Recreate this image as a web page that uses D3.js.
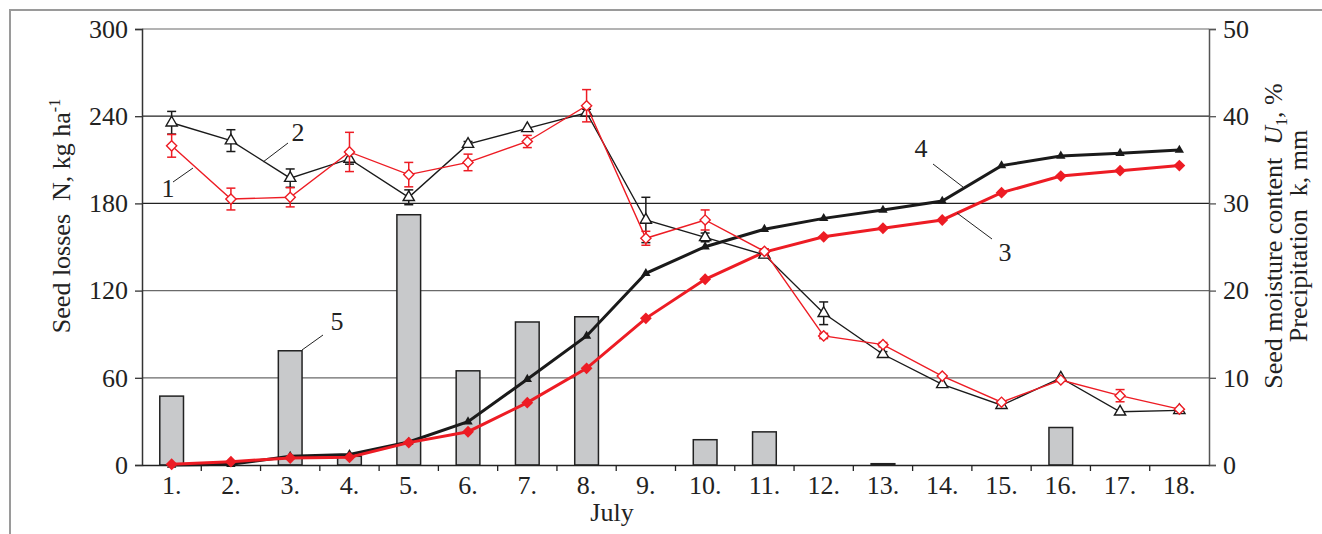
<!DOCTYPE html>
<html lang="en">
  <head>
    <meta charset="utf-8" />
    <title>Seed losses, seed moisture and precipitation in July</title>
    <script src="https://d3js.org/d3.v7.min.js"></script>
    <style>
      body {
        margin: 0;
        background: #fff;
      }
      svg {
        display: block;
        font-family: "Liberation Serif", "Times New Roman", serif;
      }
      .tick text {
        font-size: 26px;
        fill: #222;
      }
    </style>
  </head>
  <body>
    <svg id="chart" width="1322" height="534"></svg>
    <script>
      // days of July
      const days = ["1.", "2.", "3.", "4.", "5.", "6.", "7.", "8.", "9.",
        "10.", "11.", "12.", "13.", "14.", "15.", "16.", "17.", "18."];

      // 1 – seed moisture content (red, open diamonds), %, with error bars
      const moisture1 = [36.6, 30.5, 30.7, 35.9, 33.3, 34.7, 37.1, 41.2, 26.0,
        28.1, 24.5, 14.8, 13.8, 10.2, 7.2, 9.75, 7.95, 6.4];
      const moisture1Err = [1.3, 1.25, 1.1, 2.25, 1.4, 0.95, 0.7, 1.85, 0.8,
        1.15, 0.3, 0.3, 0.25, 0.2, 0.2, 0.2, 0.7, 0.2];

      // 2 – seed moisture content (black, open triangles), %, with error bars
      const moisture2 = [39.25, 37.2, 32.9, 35.1, 30.7, 36.8, 38.6, 40.4, 28.1,
        26.1, 24.1, 17.4, 12.7, 9.25, 6.85, 9.98, 6.1, 6.27];
      const moisture2Err = [1.3, 1.25, 1.05, 0.6, 0.85, 0.3, 0.2, 0.4, 2.6,
        0.5, 0.3, 1.3, 0.3, 0.2, 0.2, 0.2, 0.2, 0.2];

      // 3 – seed losses (red, filled diamonds), kg/ha
      const losses3 = [0.5, 2.3, 4.8, 5.3, 15.4, 22.9, 42.9, 66.5, 100.9,
        127.8, 146.5, 157, 162.9, 168.6, 187.4, 198.8, 202.5, 206];

      // 4 – seed losses (black, filled triangles), kg/ha
      const losses4 = [0, 0.5, 6, 7.3, 15.8, 29.8, 59, 88.8, 131.9,
        150.2, 162.2, 169.7, 175.4, 181.6, 206, 212.6, 214.5, 216.7];

      // 5 – precipitation, mm
      const precipitation = [7.9, 0, 13.1, 1.0, 28.7, 10.8, 16.4, 17.0, 0,
        2.9, 3.8, 0, 0.15, 0, 0, 4.3, 0, 0];

      const leftTicks = [0, 60, 120, 180, 240, 300];
      const rightTicks = [0, 10, 20, 30, 40, 50];

      const red = "#ed1c24";
      const dark = "#1a1a1a";

      const svg = d3.select("#chart");
      const margin = { left: 142, right: 1209, top: 29, bottom: 465 };

      const x = d3.scaleBand().domain(days).range([margin.left, margin.right]);
      const cx = (d) => x(d) + x.bandwidth() / 2;
      const yL = d3.scaleLinear().domain([0, 300]).range([margin.bottom, margin.top]);
      const yR = d3.scaleLinear().domain([0, 50]).range([margin.bottom, margin.top]);

      // outer frame (partial, as cropped in the figure)
      svg.append("path")
        .attr("d", "M10,534 V10 H1322")
        .attr("fill", "none")
        .attr("stroke", "#9a9a9a")
        .attr("stroke-width", 2);

      // gridlines
      const gridColor = { 300: "#9a9a9a", 240: "#222", 180: "#222", 120: "#6a6a6a", 60: "#6a6a6a" };
      svg.append("g")
        .selectAll("line")
        .data(leftTicks.filter((d) => d > 0))
        .join("line")
        .attr("x1", margin.left)
        .attr("x2", margin.right)
        .attr("y1", (d) => yL(d))
        .attr("y2", (d) => yL(d))
        .attr("stroke", (d) => gridColor[d])
        .attr("stroke-width", 1.3);

      // precipitation bars
      const barW = x.bandwidth() * 0.4;
      svg.append("g")
        .selectAll("rect")
        .data(days.map((d, i) => ({ d, v: precipitation[i] })).filter((p) => p.v > 0))
        .join("rect")
        .attr("x", (p) => cx(p.d) - barW / 2)
        .attr("width", barW)
        .attr("y", (p) => yR(p.v))
        .attr("height", (p) => yR(0) - yR(p.v))
        .attr("fill", "#c8c9cb")
        .attr("stroke", "#222")
        .attr("stroke-width", 1.5);

      // axes
      const axL = svg.append("g")
        .attr("transform", `translate(${margin.left},0)`)
        .call(d3.axisLeft(yL).tickValues(leftTicks).tickSize(7).tickPadding(7))
        .attr("font-family", null);
      axL.select(".domain").attr("stroke", "#333").attr("stroke-width", 1.5);
      axL.selectAll(".tick line").attr("stroke", "#333").attr("stroke-width", 1.3);

      const axR = svg.append("g")
        .attr("transform", `translate(${margin.right},0)`)
        .call(d3.axisRight(yR).tickValues(rightTicks).tickSize(7).tickPadding(7))
        .attr("font-family", null);
      axR.select(".domain").attr("stroke", "#555").attr("stroke-width", 1.5);
      axR.selectAll(".tick line").attr("stroke", "#555").attr("stroke-width", 1.3);

      const axB = svg.append("g")
        .attr("transform", `translate(0,${margin.bottom})`)
        .call(d3.axisBottom(x).tickSize(0).tickPadding(8))
        .attr("font-family", null);
      axB.select(".domain").attr("stroke", "#222").attr("stroke-width", 1.6);
      axB.selectAll(".tick text").attr("dy", "0.8em");

      // x ticks between days
      svg.append("g")
        .selectAll("line")
        .data(days.slice(1))
        .join("line")
        .attr("x1", (d) => x(d))
        .attr("x2", (d) => x(d))
        .attr("y1", margin.bottom)
        .attr("y2", margin.bottom + 6)
        .attr("stroke", "#222")
        .attr("stroke-width", 1.3);

      function drawSeries(values, yScale, opts) {
        const pts = days.map((d, i) => [cx(d), yScale(values[i])]);
        svg.append("path")
          .attr("d", d3.line()(pts))
          .attr("fill", "none")
          .attr("stroke", opts.color)
          .attr("stroke-width", opts.width);
        if (opts.err) {
          const g = svg.append("g").attr("stroke", opts.color).attr("stroke-width", 1.5);
          days.forEach((d, i) => {
            const e = opts.err[i];
            if (e < 0.25) return;
            const x0 = cx(d), y1 = yScale(values[i] + e), y2 = yScale(values[i] - e);
            g.append("line").attr("x1", x0).attr("x2", x0).attr("y1", y1).attr("y2", y2);
            g.append("line").attr("x1", x0 - 4.5).attr("x2", x0 + 4.5).attr("y1", y1).attr("y2", y1);
            g.append("line").attr("x1", x0 - 4.5).attr("x2", x0 + 4.5).attr("y1", y2).attr("y2", y2);
          });
        }
        const sym = d3.symbol().type(opts.shape).size(opts.size);
        svg.append("g")
          .selectAll("path")
          .data(pts)
          .join("path")
          .attr("d", sym)
          .attr("transform", (p) => `translate(${p[0]},${p[1]})` + (opts.rotate ? " rotate(45)" : ""))
          .attr("fill", opts.fill)
          .attr("stroke", opts.color)
          .attr("stroke-width", opts.open ? 1.4 : 0);
      }

      // thick lines: seed losses
      drawSeries(losses4, yL, { color: dark, width: 3, shape: d3.symbolTriangle, size: 38, fill: dark });
      drawSeries(losses3, yL, { color: red, width: 3, shape: d3.symbolSquare, size: 70, fill: red, rotate: true });
      // thin lines: seed moisture
      drawSeries(moisture2, yR, { color: dark, width: 1.4, shape: d3.symbolTriangle, size: 55, fill: "#fff", open: true, err: moisture2Err });
      drawSeries(moisture1, yR, { color: red, width: 1.4, shape: d3.symbolSquare, size: 52, fill: "#fff", open: true, rotate: true, err: moisture1Err });

      // series labels with leader lines
      const labels = [
        { t: "1", x: 168, y: 197, line: [173, 182, 193, 168] },
        { t: "2", x: 298, y: 141, line: [263, 162, 288, 143] },
        { t: "3", x: 1005, y: 261, line: [957, 213, 992, 239] },
        { t: "4", x: 921, y: 157, line: [933, 164, 963, 187] },
        { t: "5", x: 337, y: 330, line: [302, 350, 323, 335] },
      ];
      const lg = svg.append("g");
      labels.forEach((l) => {
        lg.append("line")
          .attr("x1", l.line[0]).attr("y1", l.line[1])
          .attr("x2", l.line[2]).attr("y2", l.line[3])
          .attr("stroke", "#222").attr("stroke-width", 1);
        lg.append("text")
          .attr("x", l.x).attr("y", l.y)
          .attr("text-anchor", "middle")
          .attr("font-size", 26)
          .attr("fill", "#222")
          .text(l.t);
      });

      // axis titles
      const titleL = svg.append("text")
        .attr("transform", "translate(70,216) rotate(-90)")
        .attr("text-anchor", "middle")
        .attr("font-size", 26)
        .attr("fill", "#222");
      titleL.append("tspan").text("Seed losses\u00a0\u00a0N, kg ha");
      titleL.append("tspan").attr("font-size", 16).attr("dy", -10).text("-1");

      const titleR1 = svg.append("text")
        .attr("transform", "translate(1282,236) rotate(-90)")
        .attr("text-anchor", "middle")
        .attr("font-size", 26)
        .attr("fill", "#222");
      titleR1.append("tspan").text("Seed moisture content\u00a0\u00a0");
      titleR1.append("tspan").attr("font-style", "italic").text("U");
      titleR1.append("tspan").attr("font-size", 16).attr("dy", 5).text("1");
      titleR1.append("tspan").attr("dy", -5).text(", %");

      svg.append("text")
        .attr("transform", "translate(1307,236) rotate(-90)")
        .attr("text-anchor", "middle")
        .attr("font-size", 26)
        .attr("fill", "#222")
        .text("Precipitation\u00a0\u00a0k, mm");

      svg.append("text")
        .attr("x", 612)
        .attr("y", 521)
        .attr("text-anchor", "middle")
        .attr("font-size", 26)
        .attr("fill", "#222")
        .text("July");
    </script>
  </body>
</html>
